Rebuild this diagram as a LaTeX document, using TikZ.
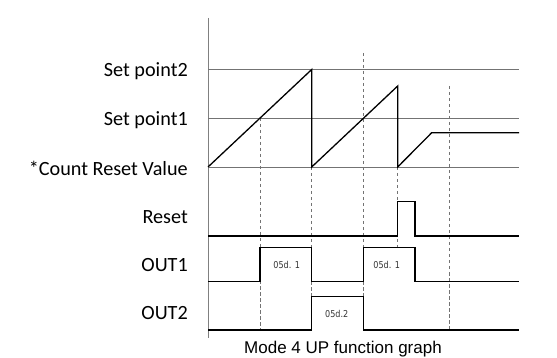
\documentclass[tikz,border=0pt]{standalone}
\usepackage{fontspec}
\setmainfont{Carlito}
\newfontfamily\capfont{Liberation Sans}
\newfontfamily\segfont{DejaVu Sans}
\begin{document}
\begin{tikzpicture}[x=1pt,y=-1pt,
  guide/.style={draw=black!55,line width=0.8pt},
  axisline/.style={draw=black!50,line width=0.8pt},
  marker/.style={draw=black!55,line width=0.6pt,dash pattern=on 3.5pt off 2.5pt},
  signal/.style={draw=black,line width=1.3pt,line join=miter},
  rowlabel/.style={anchor=east,inner sep=0pt,font=\fontsize{20.2}{22}\selectfont},
  delay/.style={inner sep=0pt,font=\segfont\fontsize{9.5}{10}\selectfont,xscale=0.85,text=black!80},
  caption/.style={inner sep=0pt,font=\capfont\fontsize{17}{19}\selectfont}]
\useasboundingbox (0,0) rectangle (557,358);

% time instants and levels
\def\tA{208}\def\tB{260}\def\tC{311.7}\def\tD{363.3}\def\tE{397.7}\def\tF{415}\def\tG{449.3}\def\tEnd{519}
\def\ySPb{69.5}\def\ySPa{118}\def\yCR{167}

% axis
\draw[axisline] (\tA,18) -- (\tA,338);

% reference levels
\draw[guide] (\tA,\ySPb) -- (\tEnd,\ySPb);
\draw[guide] (\tA,\ySPa) -- (\tEnd,\ySPa);
\draw[guide] (\tA,\yCR) -- (\tEnd,\yCR);

% event markers
\draw[marker] (\tB,\ySPa) -- (\tB,330);
\draw[marker] (\tC,\yCR) -- (\tC,330);
\draw[marker] (\tD,53) -- (\tD,330);
\draw[marker] (\tE,\yCR) -- (\tE,247.7);
\draw[marker] (\tG,86) -- (\tG,330);

% counter value
\draw[signal] (\tA,\yCR) -- (\tC,\ySPb) -- (\tC,\yCR) -- (\tE,86) -- (\tE,\yCR)
  -- (431.7,132.7) -- (\tEnd,132.7);

% reset input
\draw[signal] (\tA,236) -- (\tE,236) -- (\tE,201.7) -- (\tF,201.7) -- (\tF,236) -- (\tEnd,236);

% output 1
\draw[signal] (\tA,281.7) -- (\tB,281.7) -- (\tB,247.7) -- (\tC,247.7) -- (\tC,281.7)
  -- (\tD,281.7) -- (\tD,247.7) -- (\tF,247.7) -- (\tF,281.7) -- (\tEnd,281.7);

% output 2
\draw[signal] (\tA,330) -- (\tC,330) -- (\tC,296.7) -- (\tD,296.7) -- (\tD,330) -- (\tEnd,330);

% row labels
\node[rowlabel] (lsp2) at (188,71) {Set point2};
\node[rowlabel] (lsp1) at (188,120) {Set point1};
\node[rowlabel] (lcr) at (188,168) {*Count Reset Value};
\node[rowlabel] (lrst) at (188,216.7) {Reset};
\node[rowlabel] (lo1) at (188,265) {OUT1};
\node[rowlabel] (lo2) at (188,313) {OUT2};

% delay labels
\node[delay] (d1) at (286.7,265) {05d. 1};
\node[delay] (d2) at (386.7,265) {05d. 1};
\node[delay] (d3) at (336.7,314) {05d.2};

% caption
\node[caption] (cap) at (343,349) {Mode 4 UP function graph};
\end{tikzpicture}
\end{document}
